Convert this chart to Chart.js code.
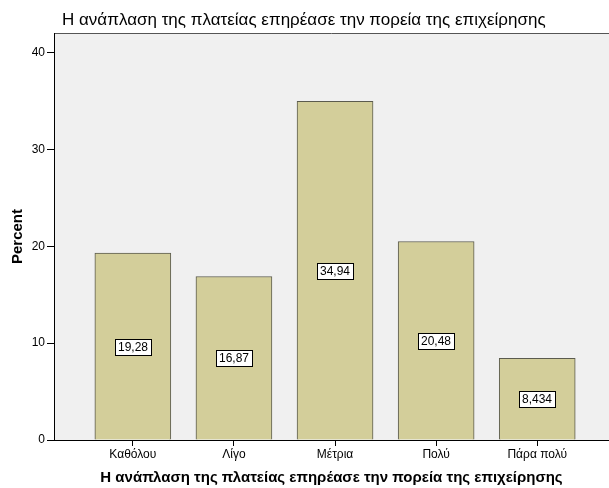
<!DOCTYPE html>
<html>
<head>
<meta charset="utf-8">
<style>
  html, body { margin: 0; padding: 0; background: #fff; }
  #wrap { width: 609px; height: 488px; }
</style>
</head>
<body>
<div id="wrap"><canvas id="myChart" width="609" height="488"></canvas></div>
<script src="https://cdn.jsdelivr.net/npm/chart.js"></script>
<script>
  // Données
  const categories = ['Καθόλου', 'Λίγο', 'Μέτρια', 'Πολύ', 'Πάρα πολύ'];
  const percents = [19.28, 16.87, 34.94, 20.48, 8.434];
  const yTicks = [0, 10, 20, 30, 40];
  const chartTitle = 'Η ανάπλαση της πλατείας επηρέασε την πορεία της επιχείρησης';

  const FONT = '"Liberation Sans", Arial, sans-serif';

  // Fond gris et cadre de la zone du graphique
  const plotBg = {
    id: 'plotBg',
    beforeDraw(chart) {
      const { ctx, chartArea: a } = chart;
      ctx.save();
      ctx.fillStyle = '#f0f0f0';
      ctx.fillRect(a.left, a.top, a.right - a.left, a.bottom - a.top);
      ctx.strokeStyle = '#555';
      ctx.lineWidth = 1;
      ctx.beginPath();
      ctx.moveTo(a.left, a.top + 0.5);
      ctx.lineTo(a.right, a.top + 0.5);
      ctx.stroke();
      // titre
      ctx.fillStyle = '#000';
      ctx.font = '17px ' + FONT;
      ctx.textBaseline = 'middle';
      ctx.fillText(chartTitle, 62, 20);
      ctx.restore();
    }
  };

  // Étiquettes blanches au milieu des barres
  const valueLabels = {
    id: 'valueLabels',
    afterDatasetsDraw(chart) {
      const { ctx } = chart;
      const meta = chart.getDatasetMeta(0);
      const yScale = chart.scales.y;
      ctx.save();
      ctx.font = '12px ' + FONT;
      ctx.textAlign = 'center';
      ctx.textBaseline = 'middle';
      meta.data.forEach((bar, i) => {
        const txt = String(percents[i]).replace('.', ',');
        const y = Math.round(yScale.getPixelForValue(percents[i] / 2));
        const x = Math.round(bar.x);
        const w = Math.ceil(ctx.measureText(txt).width) + 5;
        const h = 16;
        ctx.fillStyle = '#fff';
        ctx.fillRect(x - w / 2, y - h / 2, w, h);
        ctx.strokeStyle = '#000';
        ctx.lineWidth = 1;
        ctx.strokeRect(Math.round(x - w / 2) + 0.5, y - h / 2 + 0.5, Math.round(w), h);
        ctx.fillStyle = '#000';
        ctx.fillText(txt, x, y + 1);
      });
      ctx.restore();
    }
  };

  const config = {
    type: 'bar',
    data: {
      datasets: [{
        data: percents.map((v, i) => ({ x: i, y: v })),
        backgroundColor: '#d3ce9a',
        borderColor: '#5b5b4e',
        borderWidth: 1,
        borderSkipped: 'bottom',
        barThickness: 76
      }]
    },
    options: {
      responsive: false,
      animation: false,
      layout: { padding: { top: 33, right: 0, left: 0, bottom: 0 } },
      plugins: {
        legend: { display: false },
        tooltip: { enabled: false }
      },
      scales: {
        x: {
          type: 'linear',
          offset: false,
          min: -0.78,
          max: 4.71,
          afterBuildTicks: (scale) => { scale.ticks = categories.map((_, i) => ({ value: i })); },
          afterFit: (scale) => { scale.height = 48; },
          grid: { offset: false, drawOnChartArea: false, drawTicks: true, tickLength: 6, color: '#000' },
          border: { color: '#000', width: 1 },
          ticks: {
            autoSkip: false,
            maxRotation: 0,
            padding: 1,
            color: '#000',
            font: { family: FONT, size: 12 },
            callback: (v) => categories[v] !== undefined ? categories[v] : ''
          },
          title: {
            display: true,
            text: chartTitle,
            color: '#000',
            font: { family: FONT, size: 15, weight: 'bold' },
            padding: { top: 4, bottom: 1 }
          }
        },
        y: {
          min: 0,
          max: 42,
          afterBuildTicks: (scale) => { scale.ticks = yTicks.map(v => ({ value: v })); },
          afterFit: (scale) => { scale.width = 54; },
          grid: { drawOnChartArea: false, drawTicks: true, tickLength: 7, color: '#000' },
          border: { color: '#000', width: 1 },
          ticks: {
            padding: 2,
            color: '#000',
            font: { family: FONT, size: 12 }
          },
          title: {
            display: true,
            text: 'Percent',
            color: '#000',
            font: { family: FONT, size: 15, weight: 'bold' },
            padding: { top: 9, bottom: 4 }
          }
        }
      }
    },
    plugins: [plotBg, valueLabels]
  };

  const myChart = new Chart(document.getElementById('myChart'), config);
</script>
</body>
</html>
